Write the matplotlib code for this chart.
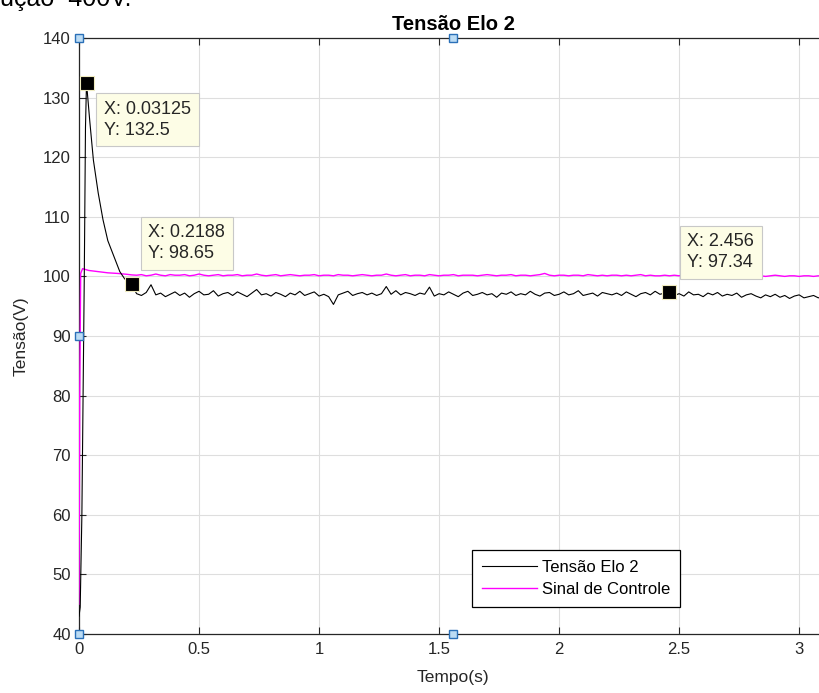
import numpy as np
import matplotlib
matplotlib.use("Agg")
import matplotlib.pyplot as plt

plt.rcParams['font.family'] = ['Liberation Sans', 'DejaVu Sans']

## dados lidos do grafico
# transitorio da tensao do elo
t_elo_ini = [0, 0.005, 0.012, 0.022, 0.027, 0.03125, 0.045, 0.06, 0.08, 0.10,
             0.12, 0.143, 0.17, 0.19, 0.2188]
v_elo_ini = [43.0, 44.5, 60.0, 100.0, 125.0, 132.5, 126.0, 119.5, 114.0, 109.5,
             106.0, 103.6, 100.8, 99.6, 98.65]

# regime (passo de 0.02 s a partir de 0.24 s)
t_regime = 0.24 + 0.02 * np.arange(145)
v_elo_reg = [
    97.1, 96.8, 97.3, 98.6, 96.9, 97.2, 96.6, 97.0, 97.4, 96.8,
    97.2, 96.5, 97.1, 97.5, 96.9, 97.0, 97.6, 96.7, 97.1, 97.3,
    96.8, 97.4, 97.0, 96.6, 97.2, 97.8, 96.9, 97.1, 96.7, 97.3,
    97.0, 96.6, 97.2, 96.9, 97.5, 96.8, 97.1, 97.4, 96.7, 97.0,
    96.6, 95.3, 96.9, 97.2, 97.5, 96.8, 97.1, 97.3, 96.9, 97.2,
    96.8, 97.1, 98.3, 97.0, 97.6, 96.9, 97.3, 97.1, 96.8, 97.2,
    97.0, 98.2, 96.7, 97.1, 96.9, 97.4, 97.0, 96.6, 97.2, 97.5,
    96.8, 97.0, 97.3, 96.9, 97.1, 96.5, 97.2, 97.0, 97.4, 96.8,
    97.1, 96.9, 97.5, 97.0, 96.7, 97.2, 97.3, 96.8, 97.0, 97.4,
    96.9, 97.1, 97.6, 96.8, 97.0, 97.2, 96.7, 97.3, 97.1, 96.9,
    97.2, 96.8, 97.4, 97.0, 96.6, 97.1, 97.3, 96.9, 97.5, 97.0,
    97.2, 97.3, 96.8, 97.1, 96.7, 97.4, 96.9, 97.0, 96.6, 97.2,
    96.9, 97.3, 96.7, 97.0, 96.8, 97.2, 96.5, 96.9, 97.1, 96.7,
    96.4, 96.9, 96.6, 97.0, 96.5, 96.8, 96.3, 96.7, 96.9, 96.4,
    96.6, 96.8, 96.4, 96.7, 96.5]

# sinal de controle
t_ctrl_ini = [0, 0.003, 0.007, 0.015, 0.04, 0.08, 0.12, 0.16, 0.20, 0.22]
v_ctrl_ini = [45.0, 80.0, 100.5, 101.3, 101.0, 100.8, 100.6, 100.5, 100.35, 100.25]
v_ctrl_reg = [
    100.2, 100.3, 100.1, 100.2, 100.4, 100.2, 100.1, 100.3, 100.2, 100.2,
    100.3, 100.1, 100.2, 100.4, 100.2, 100.1, 100.2, 100.3, 100.1, 100.2,
    100.2, 100.3, 100.1, 100.2, 100.2, 100.4, 100.2, 100.1, 100.2, 100.3,
    100.1, 100.2, 100.3, 100.2, 100.1, 100.2, 100.2, 100.3, 100.1, 100.2,
    100.2, 100.1, 100.3, 100.2, 100.2, 100.1, 100.2, 100.3, 100.2, 100.1,
    100.2, 100.2, 100.4, 100.2, 100.1, 100.2, 100.3, 100.1, 100.2, 100.2,
    100.1, 100.3, 100.2, 100.1, 100.2, 100.2, 100.3, 100.1, 100.2, 100.2,
    100.2, 100.1, 100.2, 100.3, 100.2, 100.1, 100.2, 100.2, 100.3, 100.1,
    100.2, 100.2, 100.1, 100.2, 100.3, 100.5, 100.2, 100.1, 100.2, 100.2,
    100.1, 100.2, 100.2, 100.1, 100.3, 100.2, 100.1, 100.2, 100.1, 100.2,
    100.2, 100.1, 100.2, 100.1, 100.2, 100.3, 100.1, 100.2, 100.1, 100.1,
    100.2, 100.1, 100.2, 100.1, 100.2, 100.1, 100.1, 100.2, 100.3, 100.1,
    100.1, 100.2, 100.1, 100.1, 100.2, 100.1, 100.0, 100.1, 100.2, 100.1,
    100.1, 100.0, 100.1, 100.2, 100.1, 100.0, 100.1, 100.1, 100.0, 100.1,
    100.1, 100.0, 100.1, 100.0, 100.1]

# datatips (X, Y) e deslocamento da caixa em pixels
tip_x = [0.03125, 0.2188, 2.456]
tip_y = [132.5, 98.65, 97.34]
tip_txt = ["X: 0.03125\nY: 132.5", "X: 0.2188\nY: 98.65", "X: 2.456\nY: 97.34"]
tip_off = [(61, -37), (55, 41), (52, 40)]

xticks = [0, 0.5, 1, 1.5, 2, 2.5, 3]
xticklabels = ["0", "0.5", "1", "1.5", "2", "2.5", "3"]
yticks = list(range(40, 141, 10))

cor_eixo = '#262626'

###
fig = plt.figure(figsize=(8.2, 6.93), dpi=100)
ax = fig.add_axes([79/820, 59/693, 748/820, 596/693])

t_elo = np.concatenate([t_elo_ini, t_regime])
v_elo = np.concatenate([v_elo_ini, v_elo_reg])
t_ctrl = np.concatenate([t_ctrl_ini, t_regime])
v_ctrl = np.concatenate([v_ctrl_ini, v_ctrl_reg])

l_ctrl, = ax.plot(t_ctrl, v_ctrl, color='#ff00ff', lw=1.0, label='Sinal de Controle', zorder=3)
l_elo, = ax.plot(t_elo, v_elo, color='black', lw=0.8, label='Tensão Elo 2', zorder=4)

ax.set_xlim(0, 3.116)
ax.set_ylim(40, 140)
ax.set_xticks(xticks)
ax.set_xticklabels(xticklabels)
ax.set_yticks(yticks)
ax.grid(True, color='#dedede', lw=0.8)
ax.set_axisbelow(True)
ax.tick_params(direction='in', length=5, width=0.8, colors=cor_eixo,
               labelsize=12, top=True, right=True, pad=6)
for sp in ax.spines.values():
    sp.set_color(cor_eixo)
    sp.set_linewidth(0.9)

ax.set_title("Tensão Elo 2", fontsize=14.5, fontweight='bold', color='black', pad=6)
ax.set_xlabel("Tempo(s)", fontsize=12.5, color=cor_eixo, labelpad=9)
ax.set_ylabel("Tensão(V)", fontsize=12.5, color=cor_eixo, labelpad=10)

# marcadores e caixas dos datatips
ax.plot(tip_x, tip_y, ls='none', marker='s', ms=10, mfc='black', mec='#f0ecc0',
        mew=0.8, zorder=6, clip_on=False)
for x, y, txt, off in zip(tip_x, tip_y, tip_txt, tip_off):
    ax.annotate(txt, xy=(x, y), xytext=off, textcoords='offset pixels',
                ha='center', va='center', multialignment='left', fontsize=13,
                color='#262626', zorder=7, linespacing=1.3,
                bbox=dict(boxstyle='square,pad=0.42', fc='#fdfde6', ec='#c8c8c8', lw=0.8))

leg = ax.legend(handles=[l_elo, l_ctrl], loc='lower left',
                bbox_to_anchor=(472/820, 86/693), bbox_transform=fig.transFigure,
                borderaxespad=0, fancybox=False, framealpha=1, edgecolor='black',
                fontsize=12, handlelength=3.3, handletextpad=0.3,
                labelspacing=0.42, borderpad=0.6)
leg.get_frame().set_linewidth(0.9)
leg.set_zorder(8)

# alças de seleção do MATLAB
xm = ax.get_xlim()[1] / 2
hx = [0, xm, 0, 0, xm]
hy = [140, 140, 90, 40, 40]
ax.plot(hx, hy, ls='none', marker='s', ms=5.5, mfc='#bcdcf4', mec='#2a70b8',
        mew=1.0, zorder=9, clip_on=False)

# texto cortado no topo da imagem
fig.text(0.0, 687/693, "ução  400V.", fontsize=18, color='black', va='baseline')

fig.savefig("out.png", dpi=100)
